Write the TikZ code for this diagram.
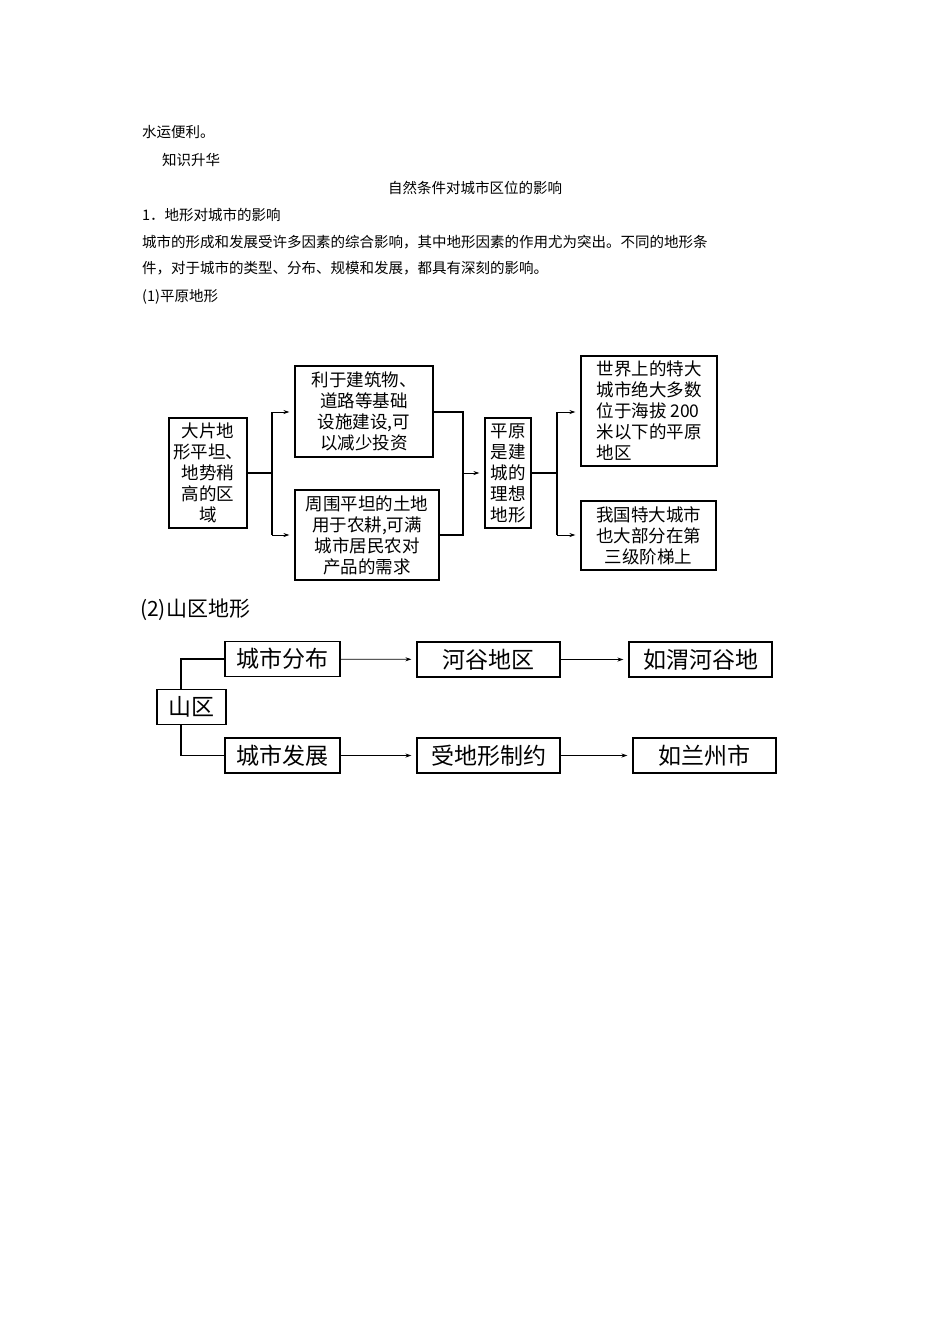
\documentclass[tikz,border=0pt]{standalone}
\usepackage{fontspec}
\setmainfont{Noto Sans CJK SC}
\usetikzlibrary{arrows.meta}
\begin{document}
\begin{tikzpicture}[x=1pt,y=-1pt,
 body/.style={anchor=west,inner sep=0,font=\fontsize{14.5}{16}\selectfont},
 box/.style={draw,line width=1.1pt,inner sep=1pt,align=center,font=\fontsize{17.5}{21}\selectfont},
 box2/.style={draw,line width=1.1pt,inner sep=1pt,align=center,font=\fontsize{23}{26}\selectfont,minimum height=35pt},
 ln/.style={line width=1.4pt},
 arr/.style={line width=0.8pt,-{Stealth[length=6pt,width=4pt]},shorten >=5pt}]
\useasboundingbox (0,0) rectangle (950,1344);
\fill[white] (0,0) rectangle (950,1344);
\node[body] (t1) at (142,132) {水运便利。};
\node[body] (t2) at (162,160) {知识升华};
\node[body,anchor=center] (t3) at (475,188) {自然条件对城市区位的影响};
\node[body] (t4) at (142,215) {1．地形对城市的影响};
\node[body] (t5) at (142,242) {城市的形成和发展受许多因素的综合影响，其中地形因素的作用尤为突出。不同的地形条};
\node[body] (t6) at (142,268) {件，对于城市的类型、分布、规模和发展，都具有深刻的影响。};
\node[body] (t7) at (142,297) {(1)平原地形};
% diagram 1
\node[box,minimum width=78pt,minimum height=110pt] (A) at (208,473) {大片地\\形平坦、\\地势稍\\高的区\\域};
\node[box,minimum width=138pt,minimum height=91pt] (B) at (364,411.5) {利于建筑物、\\道路等基础\\设施建设,可\\以减少投资};
\node[box,minimum width=144pt,minimum height=90pt] (C) at (367,535) {周围平坦的土地\\用于农耕,可满\\城市居民农对\\产品的需求};
\node[box,minimum width=46pt,minimum height=110pt] (D) at (508,473) {平原\\是建\\城的\\理想\\地形};
\node[box,minimum width=136pt,minimum height=110pt,align=left] (E) at (649,411) {世界上的特大\\城市绝大多数\\位于海拔 200\\米以下的平原\\地区};
\node[box,minimum width=135pt,minimum height=69pt] (F) at (648.5,535.5) {我国特大城市\\也大部分在第\\三级阶梯上};
\coordinate (j1) at (272,473);
\coordinate (j1t) at (272,412);
\coordinate (j1b) at (272,535);
\draw[ln] (A.east |- j1) -- (j1);
\draw[ln] (j1t) -- (j1b);
\draw[arr] (j1t) -- (B.west |- j1t);
\draw[arr] (j1b) -- (C.west |- j1b);
\coordinate (j2t) at (463,412);
\coordinate (j2b) at (463,535);
\coordinate (j2) at (463,473);
\draw[ln] (B.east |- j2t) -- (j2t) -- (j2b) -- (C.east |- j2b);
\draw[arr] (j2) -- (D.west |- j2);
\coordinate (j3) at (557,473);
\coordinate (j3t) at (557,412);
\coordinate (j3b) at (557,535);
\draw[ln] (D.east |- j3) -- (j3);
\draw[ln] (j3t) -- (j3b);
\draw[arr] (j3t) -- (E.west |- j3t);
\draw[arr] (j3b) -- (F.west |- j3b);
% diagram 2
\node[body,font=\fontsize{21}{24}\selectfont] (t8) at (140,610) {(2)山区地形};
\node[box2,minimum width=115pt] (G1) at (282.5,659) {城市分布};
\node[box2,minimum width=143pt] (G2) at (488.5,659.5) {河谷地区};
\node[box2,minimum width=143pt] (G3) at (700.5,659.5) {如渭河谷地};
\node[box2,minimum width=69pt] (S) at (191.5,707) {山区};
\node[box2,minimum width=115pt] (H1) at (282.5,755.5) {城市发展};
\node[box2,minimum width=143pt] (H2) at (488.5,755.5) {受地形制约};
\node[box2,minimum width=143pt] (H3) at (704.5,755.5) {如兰州市};
\draw[line width=1.1pt] (S.north -| 181,0) |- (G1.west);
\draw[line width=1.1pt] (S.south -| 181,0) |- (H1.west);
\draw[arr] (G1) -- (G2);
\draw[arr] (G2) -- (G3);
\draw[arr] (H1) -- (H2);
\draw[arr] (H2) -- (H3);
\end{tikzpicture}
\end{document}
